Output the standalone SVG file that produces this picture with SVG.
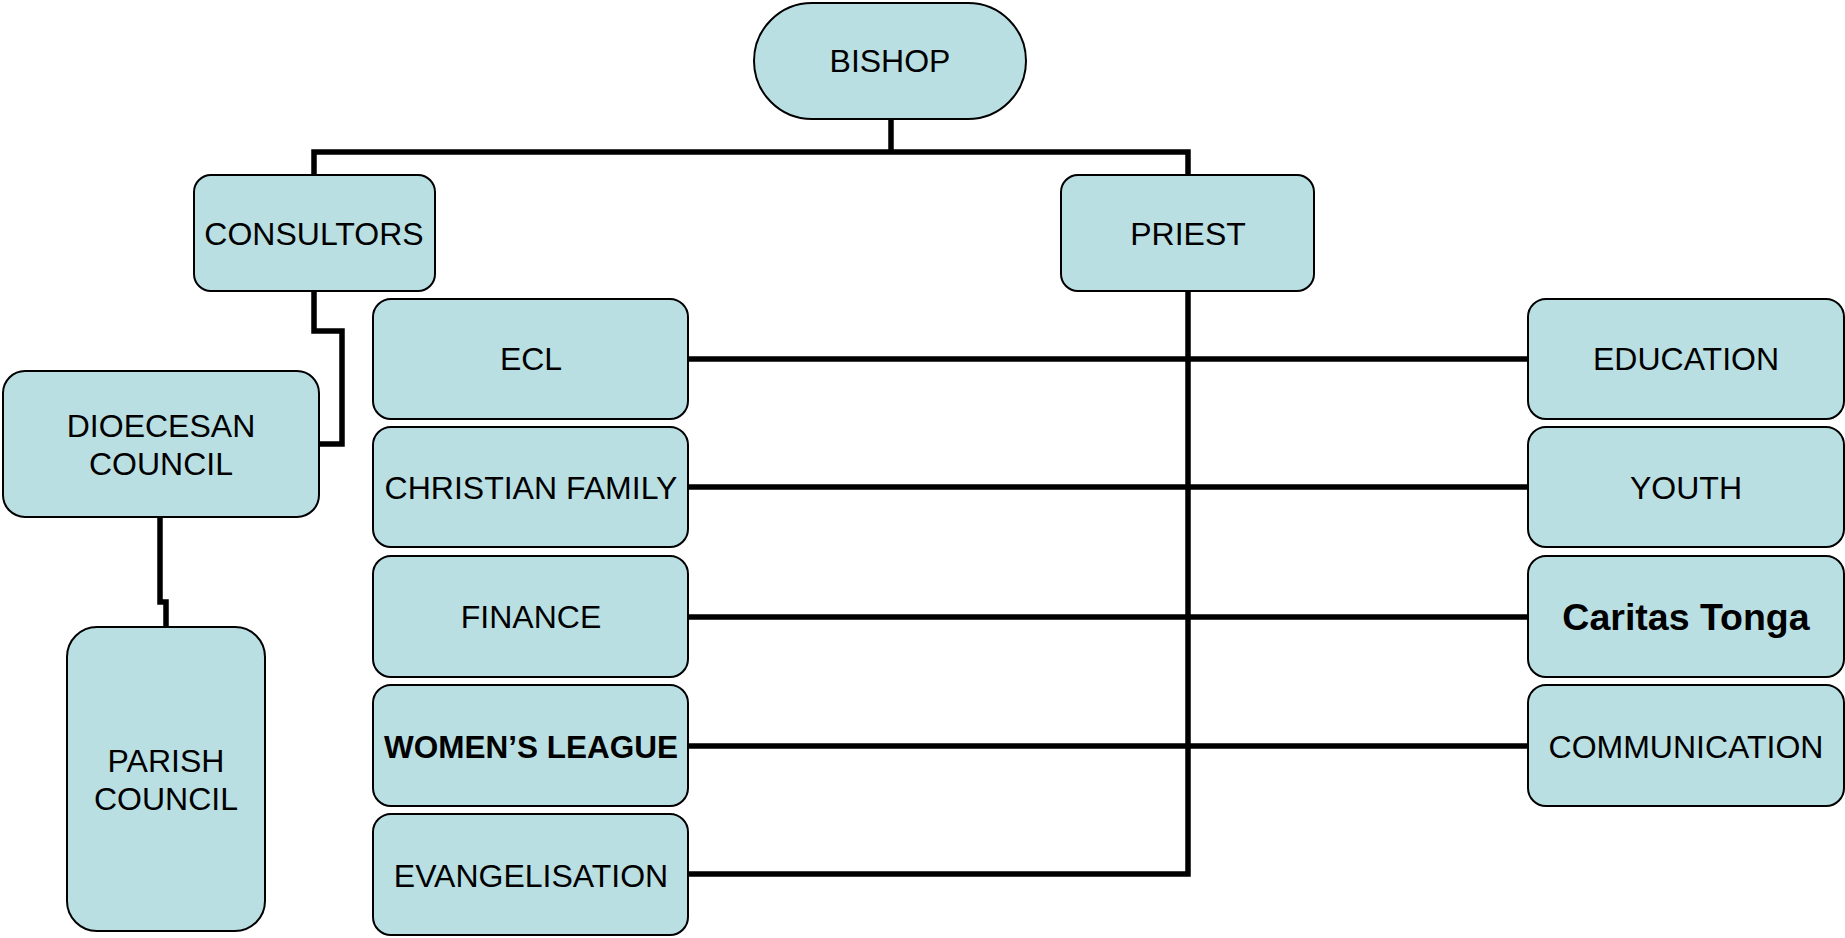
<svg xmlns="http://www.w3.org/2000/svg" width="1845" height="938" viewBox="0 0 1845 938">
<style>
.box{fill:#b9dfe3;stroke:#000;stroke-width:2}
.t{font-family:"Liberation Sans",Arial,sans-serif;font-size:32px;fill:#000;text-anchor:middle;dominant-baseline:central}
.b{font-weight:bold}
.c{fill:none;stroke:#000;stroke-width:5.5;stroke-linejoin:miter;stroke-linecap:butt}
</style>
<rect width="1845" height="938" fill="#fff"/>
<g id="connectors">
<path class="c" d="M891,119 V152 M314,175 V152 H1188 V175"/>
<path class="c" d="M314,291 V331 H342 V444 H319"/>
<path class="c" d="M160,517 V602 H166 V627"/>
<path class="c" d="M1188,291 V874 H688"/>
<path class="c" d="M688,359 H1528 M688,487 H1528 M688,617 H1528 M688,746 H1528"/>
</g>
<g id="bishop"><rect class="box" x="754" y="3" width="272" height="116" rx="58"/><text class="t" x="890" y="61">BISHOP</text></g>
<g id="consultors"><rect class="box" x="194" y="175" width="241" height="116" rx="17"/><text class="t" x="314" y="234">CONSULTORS</text></g>
<g id="priest"><rect class="box" x="1061" y="175" width="253" height="116" rx="17"/><text class="t" x="1188" y="234">PRIEST</text></g>
<g id="dioecesan"><rect class="box" x="3" y="371" width="316" height="146" rx="22"/><text class="t" x="161" y="426">DIOECESAN</text><text class="t" x="161" y="464">COUNCIL</text></g>
<g id="parish"><rect class="box" x="67" y="627" width="198" height="304" rx="30"/><text class="t" x="166" y="761">PARISH</text><text class="t" x="166" y="799">COUNCIL</text></g>
<g id="ecl"><rect class="box" x="373" y="299" width="315" height="120" rx="18"/><text class="t" x="531" y="359">ECL</text></g>
<g id="christian-family"><rect class="box" x="373" y="427" width="315" height="120" rx="18"/><text class="t" x="531" y="488">CHRISTIAN FAMILY</text></g>
<g id="finance"><rect class="box" x="373" y="556" width="315" height="121" rx="18"/><text class="t" x="531" y="617">FINANCE</text></g>
<g id="womens-league"><rect class="box" x="373" y="685" width="315" height="121" rx="18"/><text class="t b" x="531" y="747" style="font-size:31.5px">WOMEN’S LEAGUE</text></g>
<g id="evangelisation"><rect class="box" x="373" y="814" width="315" height="121" rx="18"/><text class="t" x="531" y="876">EVANGELISATION</text></g>
<g id="education"><rect class="box" x="1528" y="299" width="316" height="120" rx="18"/><text class="t" x="1686" y="359">EDUCATION</text></g>
<g id="youth"><rect class="box" x="1528" y="427" width="316" height="120" rx="18"/><text class="t" x="1686" y="488">YOUTH</text></g>
<g id="caritas"><rect class="box" x="1528" y="556" width="316" height="121" rx="18"/><text class="t b" x="1686" y="617" style="font-size:37.5px">Caritas Tonga</text></g>
<g id="communication"><rect class="box" x="1528" y="685" width="316" height="121" rx="18"/><text class="t" x="1686" y="747">COMMUNICATION</text></g>
</svg>
